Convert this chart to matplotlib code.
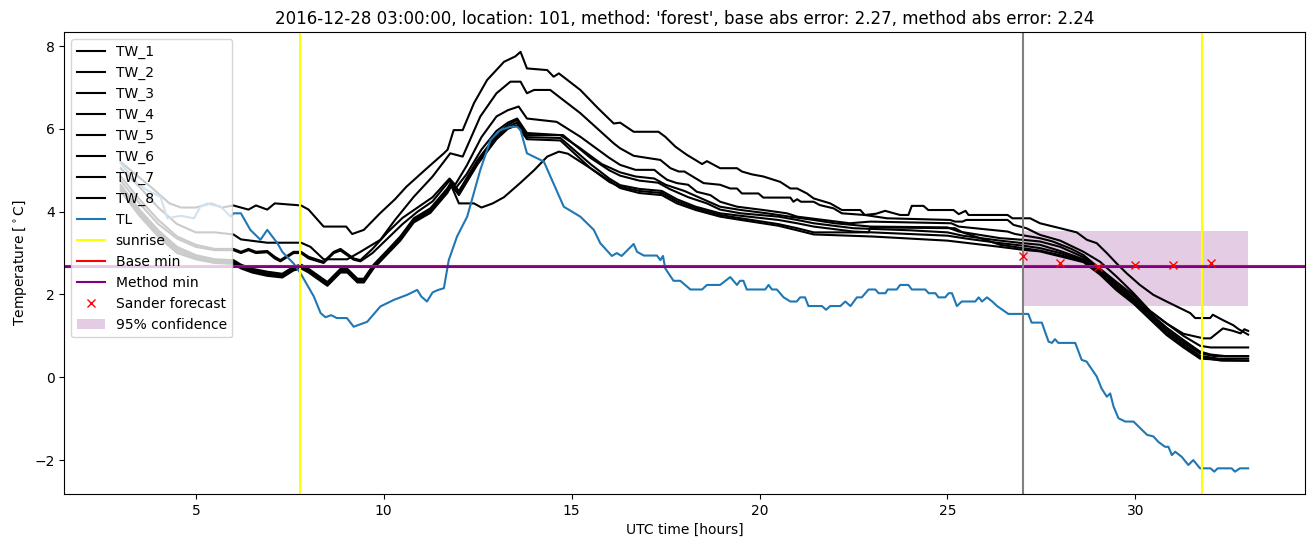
import numpy as np
import matplotlib
matplotlib.use("Agg")
import matplotlib.pyplot as plt

# TW sensor series (hour, temperature)
tw_1 = [(3.0, 5.2), (3.4, 4.9), (3.8, 4.6), (4.3, 4.2), (4.6, 4.1), (5.0, 4.1), (5.4, 4.2), (5.7, 4.1),
        (6.0, 4.15), (6.4, 4.05), (6.6, 4.15), (6.9, 4.05), (7.1, 4.2), (7.8, 4.15), (8.0, 4.05), (8.4, 3.64),
        (9.0, 3.64), (9.16, 3.46), (9.47, 3.56), (9.9, 3.96), (10.3, 4.3), (10.6, 4.6), (11.15, 5.05),
        (11.6, 5.41), (11.7, 5.5), (11.86, 5.97), (12.1, 5.97), (12.4, 6.62), (12.75, 7.18), (13.2, 7.62),
        (13.5, 7.75), (13.64, 7.86), (13.81, 7.46), (14.35, 7.42), (14.52, 7.26), (14.66, 7.34), (15.23, 6.94),
        (15.7, 6.5), (16.12, 6.13), (16.29, 6.15), (16.65, 5.93), (17.31, 5.93), (17.49, 5.81), (17.76, 5.57),
        (18.07, 5.37), (18.29, 5.25), (18.47, 5.15), (18.6, 5.22), (18.95, 5.05), (19.4, 5.05), (19.53, 4.97),
        (19.8, 4.9), (20.1, 4.85), (20.55, 4.72), (20.82, 4.56), (21.0, 4.56), (21.26, 4.44), (21.44, 4.32),
        (21.88, 4.2), (22.19, 4.04), (22.68, 4.04), (22.8, 3.92), (23.1, 3.95), (23.34, 4.02), (23.74, 3.92),
        (23.96, 3.92), (24.05, 4.14), (24.36, 4.14), (24.49, 4.04), (25.16, 4.04), (25.3, 3.94), (25.48, 4.02),
        (25.56, 3.92), (26.6, 3.92), (26.73, 3.84), (27.2, 3.84), (27.46, 3.72), (28.0, 3.6), (28.44, 3.5),
        (28.71, 3.32), (28.97, 3.24), (29.24, 3.0), (29.5, 2.75), (29.77, 2.51), (30.12, 2.23), (30.48, 1.99),
        (30.83, 1.83), (31.19, 1.67), (31.46, 1.55), (31.59, 1.43), (31.99, 1.43), (32.06, 1.51), (32.33, 1.38),
        (32.6, 1.26), (32.75, 1.16), (33.0, 1.03)]
tw_2 = [(3.0, 5.05), (3.5, 4.6), (4.0, 4.1), (4.5, 3.7), (5.0, 3.5), (5.5, 3.5), (6.0, 3.45), (6.2, 3.33),
        (6.9, 3.25), (7.8, 3.25), (8.05, 3.15), (8.4, 2.85), (9.03, 2.85), (9.38, 3.03), (9.91, 3.32),
        (10.3, 3.8), (10.8, 4.36), (11.3, 4.85), (11.77, 5.41), (12.1, 5.33), (12.57, 6.3), (13.0, 6.86),
        (13.37, 7.14), (13.64, 7.14), (13.81, 6.86), (14.0, 6.94), (14.43, 6.94), (14.6, 6.82), (15.23, 6.38),
        (16.12, 5.65), (16.29, 5.53), (16.65, 5.35), (17.0, 5.3), (17.36, 5.25), (17.63, 5.05), (17.85, 4.97),
        (18.0, 4.97), (18.2, 4.86), (18.51, 4.69), (18.95, 4.65), (19.22, 4.56), (19.4, 4.56), (19.53, 4.44),
        (19.97, 4.44), (20.1, 4.34), (20.82, 4.34), (20.9, 4.24), (21.0, 4.3), (21.1, 4.24), (21.44, 4.24),
        (21.6, 4.16), (21.97, 4.08), (22.19, 3.96), (22.8, 3.92), (23.39, 3.84), (25.07, 3.8), (25.2, 3.76),
        (25.4, 3.76), (25.5, 3.8), (26.6, 3.8), (26.76, 3.68), (27.1, 3.6), (27.46, 3.44), (28.0, 3.3),
        (28.62, 3.03), (29.06, 2.79), (29.5, 2.43), (29.95, 2.03), (30.39, 1.6), (30.83, 1.3), (31.28, 1.05),
        (31.81, 0.94), (32.0, 0.94), (32.33, 1.18), (32.6, 1.12), (32.8, 1.06), (32.9, 1.16), (33.0, 1.12)]
tw_3 = [(3.0, 4.85), (3.5, 4.3), (4.0, 3.8), (4.5, 3.4), (5.0, 3.2), (5.5, 3.1), (6.0, 3.1), (6.2, 3.03),
        (6.4, 3.1), (6.6, 3.03), (6.9, 3.05), (7.1, 2.91), (7.25, 2.83), (7.6, 3.03), (7.8, 3.03), (8.0, 2.91),
        (8.4, 2.79), (8.67, 3.03), (8.85, 3.1), (9.2, 2.87), (9.38, 2.83), (9.7, 3.1), (10.1, 3.5), (10.5, 3.85),
        (10.9, 4.1), (11.3, 4.35), (11.75, 4.8), (11.9, 4.65), (12.2, 5.1), (12.6, 5.8), (13.0, 6.3),
        (13.3, 6.45), (13.59, 6.54), (13.81, 6.25), (14.6, 6.17), (15.23, 5.81), (16.0, 5.3), (16.29, 5.13),
        (16.7, 5.01), (17.2, 5.01), (17.36, 4.89), (17.54, 4.77), (17.8, 4.69), (18.1, 4.65), (18.33, 4.48),
        (18.69, 4.4), (18.95, 4.24), (19.4, 4.12), (20.1, 4.04), (20.73, 3.96), (21.0, 3.88), (21.7, 3.8),
        (22.4, 3.72), (22.95, 3.76), (25.1, 3.72), (25.3, 3.64), (26.6, 3.52), (26.8, 3.46), (27.46, 3.36),
        (27.8, 3.28), (28.3, 3.1), (28.62, 2.95), (29.06, 2.62), (29.5, 2.3), (29.95, 1.98), (30.39, 1.6),
        (30.83, 1.3), (31.28, 1.0), (31.72, 0.76), (32.0, 0.72), (33.0, 0.72)]
tw_4 = [(3.0, 4.75), (3.5, 4.2), (4.0, 3.7), (4.5, 3.35), (5.0, 3.15), (5.5, 3.07), (6.0, 3.07), (6.2, 3.0),
        (6.4, 3.07), (6.6, 3.0), (6.9, 3.02), (7.1, 2.87), (7.25, 2.8), (7.6, 3.0), (7.8, 3.0), (8.0, 2.87),
        (8.4, 2.76), (8.67, 3.0), (8.85, 3.06), (9.2, 2.84), (9.38, 2.8), (9.7, 3.0), (10.1, 3.35), (10.5, 3.7),
        (10.9, 4.0), (11.3, 4.25), (11.75, 4.75), (11.9, 4.55), (12.2, 4.9), (12.6, 5.5), (13.0, 5.95),
        (13.3, 6.15), (13.55, 6.25), (13.81, 5.9), (14.7, 5.85), (15.2, 5.55), (15.8, 5.15), (16.29, 4.95),
        (16.7, 4.85), (17.2, 4.8), (17.5, 4.65), (18.0, 4.5), (18.5, 4.3), (18.95, 4.12), (19.5, 4.04),
        (20.2, 3.96), (20.8, 3.88), (21.44, 3.8), (22.0, 3.72), (22.95, 3.64), (25.0, 3.62), (25.3, 3.52),
        (26.4, 3.36), (27.0, 3.32), (27.46, 3.28), (28.0, 3.15), (28.62, 2.9), (29.06, 2.6), (29.5, 2.25),
        (29.95, 1.92), (30.39, 1.55), (30.83, 1.2), (31.28, 0.9), (31.72, 0.62), (32.0, 0.55), (32.4, 0.51),
        (33.0, 0.51)]
tw_5 = [(3.0, 4.65), (3.5, 4.05), (4.0, 3.55), (4.5, 3.15), (5.0, 2.95), (5.5, 2.85), (6.0, 2.83), (6.2, 2.72),
        (6.5, 2.62), (6.9, 2.55), (7.3, 2.5), (7.6, 2.67), (7.8, 2.72), (8.0, 2.62), (8.5, 2.3), (8.85, 2.62),
        (9.03, 2.62), (9.3, 2.38), (9.47, 2.38), (9.73, 2.72), (10.09, 3.06), (10.44, 3.4), (10.8, 3.84),
        (11.24, 4.08), (11.69, 4.56), (11.8, 4.72), (12.0, 4.5), (12.5, 5.25), (13.0, 5.85), (13.3, 6.1),
        (13.55, 6.21), (13.81, 5.85), (14.77, 5.85), (15.5, 5.3), (16.0, 5.0), (16.29, 4.87), (16.8, 4.75),
        (17.3, 4.7), (17.6, 4.55), (18.1, 4.35), (18.6, 4.2), (18.95, 4.05), (19.5, 3.96), (20.5, 3.88),
        (21.0, 3.8), (21.44, 3.72), (22.5, 3.6), (24.0, 3.55), (25.0, 3.5), (25.4, 3.42), (26.4, 3.3),
        (27.0, 3.24), (27.46, 3.2), (28.0, 3.05), (28.62, 2.85), (29.06, 2.56), (29.5, 2.2), (29.95, 1.88),
        (30.39, 1.5), (30.83, 1.15), (31.28, 0.85), (31.72, 0.58), (32.1, 0.51), (33.0, 0.51)]
tw_6 = [(3.0, 4.6), (3.5, 4.0), (4.0, 3.5), (4.5, 3.1), (5.0, 2.92), (5.5, 2.82), (6.0, 2.8), (6.2, 2.69),
        (6.5, 2.59), (6.9, 2.51), (7.3, 2.47), (7.6, 2.64), (7.8, 2.69), (8.0, 2.59), (8.5, 2.27), (8.85, 2.59),
        (9.03, 2.59), (9.3, 2.35), (9.47, 2.35), (9.73, 2.69), (10.09, 3.03), (10.44, 3.36), (10.8, 3.8),
        (11.24, 4.04), (11.69, 4.52), (11.8, 4.68), (12.0, 4.45), (12.5, 5.2), (13.0, 5.8), (13.3, 6.05),
        (13.55, 6.15), (13.81, 5.8), (14.7, 5.78), (15.5, 5.15), (16.0, 4.8), (16.29, 4.64), (16.8, 4.55),
        (17.4, 4.5), (17.8, 4.3), (18.3, 4.12), (18.95, 3.96), (19.5, 3.9), (20.5, 3.8), (21.0, 3.72),
        (21.44, 3.64), (22.5, 3.52), (24.0, 3.46), (25.0, 3.42), (25.5, 3.35), (26.4, 3.24), (27.0, 3.18),
        (27.46, 3.12), (28.0, 3.0), (28.62, 2.82), (29.06, 2.52), (29.5, 2.15), (29.95, 1.84), (30.39, 1.45),
        (30.83, 1.1), (31.28, 0.8), (31.72, 0.52), (32.2, 0.45), (33.0, 0.45)]
tw_7 = [(3.0, 4.55), (3.5, 3.95), (4.0, 3.45), (4.5, 3.05), (5.0, 2.88), (5.5, 2.79), (6.0, 2.77), (6.2, 2.66),
        (6.5, 2.56), (6.9, 2.48), (7.3, 2.44), (7.6, 2.61), (7.8, 2.66), (8.0, 2.56), (8.5, 2.24), (8.85, 2.56),
        (9.03, 2.56), (9.3, 2.32), (9.47, 2.32), (9.73, 2.66), (10.09, 3.0), (10.44, 3.33), (10.8, 3.77),
        (11.24, 4.0), (11.69, 4.48), (11.8, 4.64), (12.0, 4.4), (12.5, 5.15), (13.0, 5.75), (13.3, 6.0),
        (13.55, 6.09), (13.81, 5.75), (14.7, 5.72), (15.5, 5.05), (16.0, 4.72), (16.29, 4.6), (16.8, 4.5),
        (17.4, 4.45), (17.8, 4.25), (18.3, 4.08), (18.95, 3.92), (19.5, 3.84), (20.5, 3.7), (21.0, 3.6),
        (21.44, 3.5), (22.9, 3.5), (22.95, 3.62), (25.2, 3.6), (25.4, 3.5), (26.4, 3.2), (27.0, 3.12),
        (27.46, 3.06), (28.0, 2.95), (28.62, 2.8), (29.06, 2.5), (29.5, 2.12), (29.95, 1.8), (30.39, 1.42),
        (30.83, 1.05), (31.28, 0.75), (31.72, 0.48), (32.3, 0.4), (33.0, 0.4)]
tw_8 = [(3.0, 4.5), (3.5, 3.9), (4.0, 3.4), (4.5, 3.0), (5.0, 2.85), (5.5, 2.76), (6.0, 2.74), (6.2, 2.63),
        (6.5, 2.53), (6.9, 2.45), (7.3, 2.41), (7.6, 2.58), (7.8, 2.63), (8.0, 2.53), (8.5, 2.21), (8.85, 2.53),
        (9.03, 2.53), (9.3, 2.29), (9.47, 2.29), (9.73, 2.63), (10.09, 2.97), (10.44, 3.3), (10.8, 3.74),
        (11.24, 3.97), (11.69, 4.45), (11.8, 4.62), (12.0, 4.2), (12.4, 4.2), (12.6, 4.1), (12.9, 4.2),
        (13.2, 4.35), (13.64, 4.7), (14.0, 5.0), (14.35, 5.33), (14.66, 5.45), (14.9, 5.4), (15.5, 5.05),
        (16.0, 4.75), (16.29, 4.57), (16.8, 4.45), (17.4, 4.4), (17.8, 4.2), (18.3, 4.04), (18.95, 3.88),
        (19.5, 3.8), (20.5, 3.66), (21.0, 3.55), (21.44, 3.45), (23.0, 3.4), (25.0, 3.3), (26.4, 3.15),
        (27.0, 3.08), (27.46, 3.04), (28.0, 2.92), (28.62, 2.78), (29.06, 2.48), (29.5, 2.1), (29.95, 1.78),
        (30.39, 1.4), (30.83, 1.02), (31.28, 0.72), (31.72, 0.45), (32.3, 0.42), (33.0, 0.4)]

# TL (air temperature)
tl = [(3.0, 5.17), (3.2, 4.95), (3.44, 4.69), (3.7, 4.52), (4.06, 4.36), (4.24, 3.84), (4.6, 3.9), (4.95, 3.84),
      (5.12, 4.12), (5.3, 4.2), (5.5, 4.15), (5.66, 4.12), (5.93, 3.88), (6.0, 3.96), (6.2, 3.96), (6.45, 3.56),
      (6.72, 3.32), (6.9, 3.56), (7.17, 3.24), (7.3, 3.03), (7.6, 2.75), (7.78, 2.52), (8.14, 1.95), (8.32, 1.55),
      (8.45, 1.45), (8.6, 1.5), (8.75, 1.43), (9.02, 1.43), (9.2, 1.22), (9.56, 1.34), (9.91, 1.71), (10.27, 1.87),
      (10.62, 1.99), (10.89, 2.11), (11.0, 1.95), (11.15, 1.83), (11.3, 2.05), (11.45, 2.11), (11.6, 2.15),
      (11.73, 2.83), (11.95, 3.4), (12.22, 3.88), (12.57, 5.01), (12.84, 5.73), (13.1, 5.97), (13.37, 6.05),
      (13.55, 6.05), (13.64, 5.97), (13.81, 5.41), (14.26, 5.21), (14.79, 4.12), (15.23, 3.88), (15.59, 3.56),
      (15.76, 3.24), (16.07, 2.93), (16.2, 3.0), (16.33, 2.93), (16.65, 3.22), (16.74, 3.03), (16.92, 2.94),
      (17.27, 2.94), (17.36, 2.83), (17.43, 2.93), (17.49, 2.63), (17.71, 2.33), (17.89, 2.33), (18.16, 2.12),
      (18.47, 2.12), (18.6, 2.23), (18.95, 2.23), (19.22, 2.42), (19.4, 2.23), (19.48, 2.33), (19.57, 2.33),
      (19.66, 2.12), (20.15, 2.12), (20.24, 2.23), (20.33, 2.12), (20.46, 2.12), (20.64, 1.93), (20.82, 1.83),
      (20.99, 1.83), (21.08, 1.93), (21.21, 1.93), (21.3, 1.72), (21.66, 1.72), (21.77, 1.63), (21.88, 1.72),
      (22.15, 1.72), (22.28, 1.83), (22.42, 1.72), (22.59, 1.93), (22.72, 1.93), (22.9, 2.12), (23.08, 2.12),
      (23.17, 2.03), (23.35, 2.03), (23.41, 2.12), (23.65, 2.12), (23.74, 2.23), (23.96, 2.23), (24.05, 2.12),
      (24.41, 2.12), (24.5, 2.03), (24.68, 2.03), (24.76, 1.93), (24.94, 1.93), (25.03, 2.03), (25.12, 2.03),
      (25.25, 1.72), (25.38, 1.83), (25.74, 1.83), (25.83, 1.93), (25.92, 1.83), (26.05, 1.93), (26.19, 1.83),
      (26.32, 1.72), (26.46, 1.63), (26.62, 1.53), (27.15, 1.53), (27.24, 1.32), (27.51, 1.32), (27.69, 0.86),
      (27.78, 0.83), (27.86, 0.92), (27.95, 0.83), (28.4, 0.83), (28.57, 0.42), (28.7, 0.38), (28.97, 0.02),
      (29.1, -0.27), (29.24, -0.47), (29.33, -0.39), (29.42, -0.71), (29.55, -0.99), (29.73, -1.07),
      (29.95, -1.07), (30.13, -1.23), (30.31, -1.39), (30.48, -1.43), (30.61, -1.56), (30.79, -1.68),
      (30.88, -1.68), (30.97, -1.88), (31.06, -1.8), (31.23, -1.92), (31.41, -2.12), (31.54, -2.0),
      (31.72, -2.2), (32.0, -2.2), (32.1, -2.28), (32.19, -2.2), (32.56, -2.2), (32.65, -2.28), (32.78, -2.2),
      (33.0, -2.2)]

tw_series = [tw_1, tw_2, tw_3, tw_4, tw_5, tw_6, tw_7, tw_8]
tw_labels = ["TW_1", "TW_2", "TW_3", "TW_4", "TW_5", "TW_6", "TW_7", "TW_8"]

sunrise_hours = [7.78, 31.78]
forecast_start = 27
base_min = 2.695
method_min = 2.67
sander_hours = [27, 28, 29, 30, 31, 32]
sander_values = [2.93, 2.75, 2.67, 2.70, 2.70, 2.77]
conf_low, conf_high = 1.73, 3.53
conf_hours = [27, 33]

fig = plt.figure(figsize=(13.13, 5.47), dpi=100)
ax = fig.add_axes([64.3 / 1313, 1 - 494 / 547, (1304.5 - 64.3) / 1313, (494 - 32) / 547])

for series, name in zip(tw_series, tw_labels):
    t, v = np.array(series).T
    ax.plot(t, v, color="k", label=name)

t, v = np.array(tl).T
ax.plot(t, v, color="C0", label="TL")

ax.axvline(sunrise_hours[0], color="yellow", label="sunrise")
ax.axvline(sunrise_hours[1], color="yellow")
ax.axhline(base_min, color="red", label="Base min")
ax.axhline(method_min, color="purple", label="Method min")
ax.axvline(forecast_start, color="gray")
ax.plot(sander_hours, sander_values, "rx", label="Sander forecast")
ax.fill_between(conf_hours, conf_low, conf_high, color="purple", alpha=0.2, lw=0,
                label="95% confidence")

ax.set_xlim(1.5, 34.5)
ax.set_ylim(-2.82, 8.34)
ax.set_xlabel("UTC time [hours]")
ax.set_ylabel(r"Temperature [$^\circ$C]")
ax.set_title("2016-12-28 03:00:00, location: 101, method: 'forest', "
             "base abs error: 2.27, method abs error: 2.24")
ax.legend(loc="upper left")

fig.savefig("out.png", dpi=100)
